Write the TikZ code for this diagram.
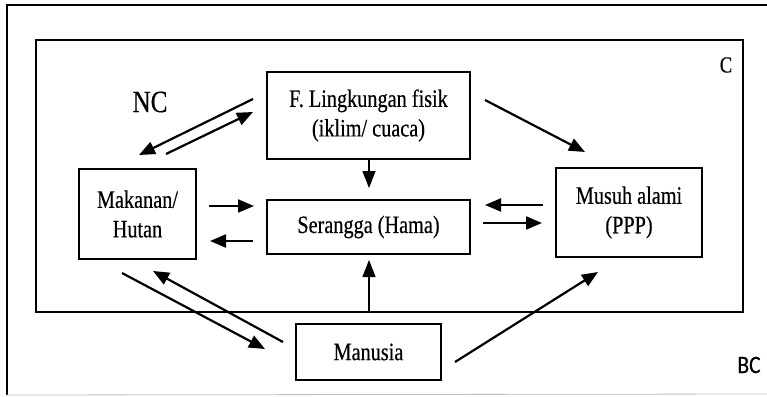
\documentclass[tikz,border=0pt]{standalone}
\usepackage{fontspec}
\usetikzlibrary{arrows.meta}
\newfontfamily\cond[FakeStretch=0.81,FakeBold=0.4]{Liberation Serif}
\newfontfamily\condsans[FakeStretch=0.86,FakeBold=0.4]{Carlito}
\begin{document}
\begin{tikzpicture}[x=1pt,y=-1pt,
  box/.style={draw,line width=1.8pt,inner sep=0pt,align=center,
    font=\cond\fontsize{25}{29.5}\selectfont},
  arr/.style={line width=2.2pt,-{Triangle[length=16pt,width=13pt]}},
  varr/.style={line width=1.4pt,-{Triangle[length=17pt,width=13pt]}}]
\useasboundingbox (0,0) rectangle (767,396);
% outer frame
\coordinate (o1) at (767,5);
\coordinate (o2) at (7,5);
\coordinate (o3) at (7,395);
\coordinate (o4) at (767,394);
\draw[line width=2pt] (o1) -- (o2) -- (o3);
\draw[line width=0.8pt,black!25] (o3) -- (o4);
% inner frame
\draw[line width=2pt] (36,40) rectangle (743,312);
% nodes
\node[box,minimum width=203pt,minimum height=87pt] (F) at (368.5,115.5) {F. Lingkungan fisik\\(iklim/ cuaca)};
\node[box,minimum width=203pt,minimum height=54pt] (S) at (368.5,227) {Serangga (Hama)};
\node[box,minimum width=117pt,minimum height=90pt] (M) at (137.5,214) {Makanan/\\Hutan};
\node[box,minimum width=146pt,minimum height=89pt] (P) at (629,212.5) {Musuh alami\\(PPP)};
\node[box,minimum width=145pt,minimum height=56pt] (H) at (368.5,352) {Manusia};
\node[font=\cond\fontsize{31}{31}\selectfont] (NC) at (150,102) {NC};
\node[font=\cond\fontsize{23}{23}\selectfont] (C) at (726,65) {C};
\node[font=\condsans\fontsize{25}{25}\selectfont] (BC) at (749,365) {BC};
% connector ends
\coordinate (a1) at (253,99);   \coordinate (b1) at (139,155);
\coordinate (a2) at (166,154);  \coordinate (b2) at (253,112);
\coordinate (a3) at (485,100);  \coordinate (b3) at (585,152);
\coordinate (a4) at (369,159);  \coordinate (b4) at (369,188);
\coordinate (a5) at (209,206);  \coordinate (b5) at (254,206);
\coordinate (a6) at (253,241);  \coordinate (b6) at (210,241);
\coordinate (a7) at (543,205);  \coordinate (b7) at (485,205);
\coordinate (a8) at (483,223);  \coordinate (b8) at (542,223);
\coordinate (a9) at (369,312);  \coordinate (b9) at (369,260);
\coordinate (a10) at (122,273); \coordinate (b10) at (265,349);
\coordinate (a11) at (283,342); \coordinate (b11) at (153,271);
\coordinate (a12) at (455,362); \coordinate (b12) at (598,272);
\draw[arr] (a1) -- (b1);
\draw[arr] (a2) -- (b2);
\draw[arr] (a3) -- (b3);
\draw[varr] (a4) -- (b4);
\draw[arr] (a5) -- (b5);
\draw[arr] (a6) -- (b6);
\draw[arr] (a7) -- (b7);
\draw[arr] (a8) -- (b8);
\draw[varr] (a9) -- (b9);
\draw[arr] (a10) -- (b10);
\draw[arr] (a11) -- (b11);
\draw[arr] (a12) -- (b12);
\end{tikzpicture}
\end{document}
